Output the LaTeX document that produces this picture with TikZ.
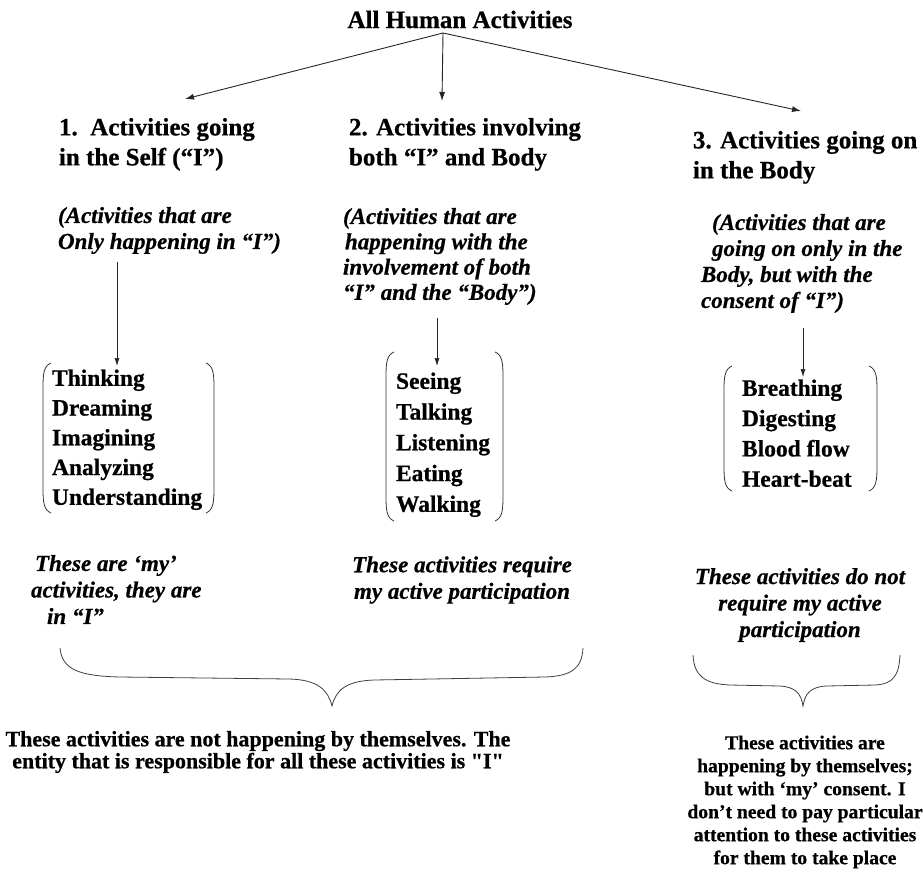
\documentclass[tikz,border=0pt]{standalone}
\usepackage{fontspec}
\setmainfont{Liberation Serif}
\newfontfamily\heavyserif[BoldFeatures={FakeBold=0.6},BoldItalicFeatures={FakeBold=0.6}]{Liberation Serif}
\usetikzlibrary{arrows.meta}

\tikzset{
  x=1pt, y=-1pt,
  every node/.style={inner sep=0pt, outer sep=0pt},
  arr/.style={-{Latex[length=9pt,width=6pt]}, line width=0.9pt, black!85},
  varr/.style={-{Latex[length=8pt,width=5pt]}, line width=0.7pt, black!85},
  paren/.style={line width=0.8pt, black!80},
  brace/.style={line width=0.8pt, black!75},
  titlebox/.style={anchor=base, font=\heavyserif\bfseries\fontsize{25}{28}\selectfont},
  headbox/.style={anchor=north west, align=left, font=\heavyserif\bfseries\fontsize{25}{30}\selectfont},
  notebox/.style={anchor=north west, align=left, font=\heavyserif\bfseries\itshape\fontsize{23}{26}\selectfont},
  listbox/.style={anchor=north west, align=left, font=\heavyserif\bfseries\fontsize{23.5}{#1}\selectfont},
  listbox/.default=30,
  remarkbox/.style={align=center, font=\heavyserif\bfseries\itshape\fontsize{23}{26.5}\selectfont},
  sumwide/.style={align=center, font=\heavyserif\bfseries\fontsize{22}{22}\selectfont},
  sumnarrow/.style={align=center, font=\heavyserif\bfseries\fontsize{19.6}{23}\selectfont},
}

% a pair of rounded brackets: left x, right x, top y, bottom y
\newcommand\roundparens[4]{%
  \draw[paren] (#1+8,#3) .. controls (#1+1,#3+3) and (#1,#3+10) .. (#1,#3+24)
    -- (#1,#4-24) .. controls (#1,#4-10) and (#1+1,#4-3) .. (#1+8,#4);
  \draw[paren] (#2-8,#3) .. controls (#2-1,#3+3) and (#2,#3+10) .. (#2,#3+24)
    -- (#2,#4-24) .. controls (#2,#4-10) and (#2-1,#4-3) .. (#2-8,#4);
}

\begin{document}
\begin{tikzpicture}
\useasboundingbox[fill=white] (0,0) rectangle (923,884);

% root
\node[titlebox] (root) at (460,28) {All Human Activities};
\coordinate (src) at (443,33);

% three branches
\node[headbox] (h1) at (59,118) {1.\hspace{0.5em}Activities going\\in the Self (“I”)};
\node[headbox] (h2) at (349,118) {2. Activities involving\\both “I” and Body};
\node[headbox] (h3) at (693,131) {3. Activities going on\\in the Body};

\coordinate (t1) at (185,99);
\coordinate (t2) at (442,101);
\coordinate (t3) at (801,111);
\draw[arr] (src) -- (t1);
\draw[arr] (src) -- (t2);
\draw[arr] (src) -- (t3);

% explanations
\node[notebox] (e1) at (58,207) {(Activities that are\\Only happening in “I”)};
\node[notebox, font=\heavyserif\bfseries\itshape\fontsize{23}{25.3}\selectfont] (e2) at (343,208)
  {(Activities that are\\\hspace*{2pt}happening with the\\involvement of both\\“I” and the “Body”)};
\node[notebox] (e3) at (701,214) {\hspace*{11pt}(Activities that are\\\hspace*{11pt}going on only in the\\Body, but with the\\consent of “I”)};

% activity lists
\node[listbox=29.75] (l1) at (52,369.5) {Thinking\\Dreaming\\Imagining\\Analyzing\\Understanding};
\node[listbox=30.75] (l2) at (396,372.5) {Seeing\\Talking\\Listening\\Eating\\Walking};
\node[listbox=30.3] (l3) at (742,379.5) {Breathing\\Digesting\\Blood flow\\Heart-beat};

\roundparens{43}{214}{363}{513}
\roundparens{386}{503}{352}{521}
\roundparens{724}{877}{366}{491}

\coordinate (a1s) at (117,262);  \coordinate (a1e) at (117,366);
\coordinate (a2s) at (437,318);  \coordinate (a2e) at (437,366);
\coordinate (a3s) at (803,328);  \coordinate (a3e) at (803,377);
\draw[varr] (a1s) -- (a1e);
\draw[varr] (a2s) -- (a2e);
\draw[varr] (a3s) -- (a3e);

% remarks
\node[notebox, font=\heavyserif\bfseries\itshape\fontsize{23}{26.5}\selectfont] (r1) at (31,555)
  {\hspace*{4pt}These are ‘my’\\activities, they are\\\hspace*{16pt}in “I”};
\node[remarkbox] (r2) at (462,580) {These activities require\\my active participation};
\node[remarkbox] (r3) at (800,605) {These activities do not\\require my active\\participation};

% braces
\draw[brace] (60,648) .. controls (62,670) and (80,676) .. (120,677)
  -- (290,679) .. controls (318,680) and (328,690) .. (332,706)
  .. controls (336,690) and (346,681) .. (374,680)
  -- (545,677) .. controls (572,676) and (582,668) .. (583,648);
\draw[brace] (693,655) .. controls (694,676) and (705,684) .. (730,685)
  -- (780,686) .. controls (795,687) and (801,693) .. (803,706)
  .. controls (805,693) and (811,687) .. (826,686)
  -- (875,685) .. controls (893,684) and (899,676) .. (900,655);

% conclusions
\node[sumwide] (s1) at (258,752) {These activities are not happening by themselves. The\\entity that is responsible for all these activities is "I"};
\node[sumnarrow] (s2) at (805,802) {These activities are\\happening by themselves;\\but with ‘my’ consent. I\\don’t need to pay particular\\attention to these activities\\for them to take place};
\end{tikzpicture}
\end{document}
